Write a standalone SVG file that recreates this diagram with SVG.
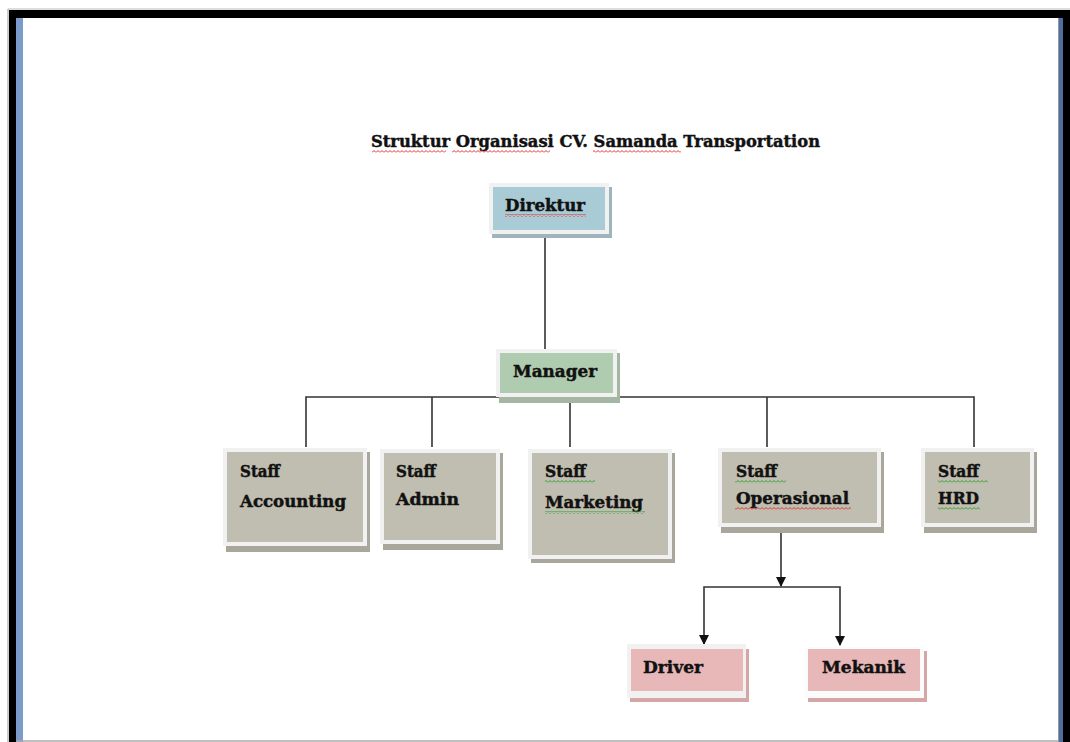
<svg xmlns="http://www.w3.org/2000/svg" width="1070" height="742" viewBox="0 0 1070 742">
<style>
.t{font-family:"DejaVu Serif","Liberation Serif",serif;font-weight:bold;fill:#111;stroke:#111;stroke-width:0.45;}
.ttl{font-size:17px;}
.lb{font-size:16px;}
.outer{fill:#f1f1f1;}
.conn{stroke:#333;stroke-width:1.6;fill:none;}
</style>
<defs>
<pattern id="sqR" width="4" height="3" patternUnits="userSpaceOnUse">
<path d="M0,2.5 L2,0.5 L4,2.5" stroke="#e03030" stroke-width="1" fill="none"/>
</pattern>
<pattern id="sqG" width="4" height="3" patternUnits="userSpaceOnUse">
<path d="M0,2.5 L2,0.5 L4,2.5" stroke="#30a030" stroke-width="1" fill="none"/>
</pattern>
<marker id="arr" markerWidth="10" markerHeight="10" refX="9" refY="5" orient="auto-start-reverse" markerUnits="userSpaceOnUse" viewBox="0 0 10 10">
<path d="M0,0 L10,5 L0,10 Z" fill="#111"/>
</marker>
</defs>
<rect x="0" y="0" width="1070" height="742" fill="#fff"/>
<g id="frame">
<line x1="8" y1="9" x2="1070" y2="9" stroke="#bbb" stroke-width="1"/>
<line x1="8" y1="9" x2="8" y2="742" stroke="#999" stroke-width="1"/>
<rect x="9" y="10" width="1061" height="8" fill="#000"/>
<rect x="9" y="10" width="7" height="732" fill="#000"/>
<rect x="16" y="18" width="7" height="724" fill="#7b9ccb"/>
<rect x="1063" y="10" width="7" height="732" fill="#000"/>
<rect x="1059" y="18" width="4" height="724" fill="#4d6e9e"/>
<line x1="1058.5" y1="18" x2="1058.5" y2="742" stroke="#999" stroke-width="1"/>
<line x1="16" y1="741" x2="1058" y2="741" stroke="#aaa" stroke-width="1.5"/>
</g>
<g id="title">
<text class="t ttl" x="371" y="147" textLength="449" lengthAdjust="spacingAndGlyphs">Struktur Organisasi CV. Samanda Transportation</text>
<rect x="372" y="150" width="74" height="3" fill="url(#sqR)"/>
<rect x="452" y="150" width="98" height="3" fill="url(#sqR)"/>
<rect x="593" y="150" width="88" height="3" fill="url(#sqR)"/>
</g>
<g id="connectors">
<line class="conn" x1="545" y1="234" x2="545" y2="350"/>
<polyline class="conn" points="306,447 306,397 974,397 974,447"/>
<line class="conn" x1="432" y1="397" x2="432" y2="447"/>
<line class="conn" x1="570" y1="397" x2="570" y2="447"/>
<line class="conn" x1="767" y1="397" x2="767" y2="447"/>
<line class="conn" x1="781" y1="528" x2="781" y2="586" marker-end="url(#arr)"/>
<polyline class="conn" points="704,644 704,587 840,587 840,645" marker-start="url(#arr)" marker-end="url(#arr)"/>
</g>
<g id="direktur">
<rect x="492" y="187" width="120" height="51" fill="#9fb4bc"/>
<rect class="outer" x="489" y="183" width="120" height="51"/>
<rect x="493" y="187" width="112" height="43" fill="#a9cbd6"/>
<text class="t lb" x="505" y="211" textLength="80" lengthAdjust="spacingAndGlyphs">Direktur</text>
<rect x="505" y="214" width="81" height="3" fill="url(#sqR)"/>
</g>
<g id="manager">
<rect x="499" y="353" width="121" height="50" fill="#a3b7a3"/>
<rect class="outer" x="496" y="349" width="121" height="48"/>
<rect x="500" y="353" width="113" height="40" fill="#b0ccb0"/>
<text class="t lb" x="513" y="377" textLength="84" lengthAdjust="spacingAndGlyphs">Manager</text>
</g>
<g id="staff-accounting">
<rect x="226" y="452" width="144" height="100" fill="#a9a79b"/>
<rect class="outer" x="223" y="448" width="144" height="98"/>
<rect x="227" y="452" width="136" height="90" fill="#c0beb0"/>
<text class="t lb" x="240" y="477" textLength="40" lengthAdjust="spacingAndGlyphs">Staff</text>
<text class="t lb" x="240" y="507" textLength="106" lengthAdjust="spacingAndGlyphs">Accounting</text>
</g>
<g id="staff-admin">
<rect x="383" y="453" width="120" height="97" fill="#a9a79b"/>
<rect class="outer" x="380" y="449" width="120" height="95"/>
<rect x="384" y="453" width="112" height="87" fill="#c0beb0"/>
<text class="t lb" x="396" y="477" textLength="40" lengthAdjust="spacingAndGlyphs">Staff</text>
<text class="t lb" x="396" y="505" textLength="63" lengthAdjust="spacingAndGlyphs">Admin</text>
</g>
<g id="staff-marketing">
<rect x="531" y="453" width="144" height="110" fill="#a9a79b"/>
<rect class="outer" x="528" y="449" width="144" height="110"/>
<rect x="532" y="453" width="136" height="102" fill="#c0beb0"/>
<text class="t lb" x="545" y="477" textLength="41" lengthAdjust="spacingAndGlyphs">Staff</text>
<text class="t lb" x="545" y="508" textLength="98" lengthAdjust="spacingAndGlyphs">Marketing</text>
<rect x="545" y="480" width="50" height="3" fill="url(#sqG)"/>
<rect x="545" y="511" width="100" height="3" fill="url(#sqG)"/>
</g>
<g id="staff-operasional">
<rect x="721" y="452" width="163" height="81" fill="#a9a79b"/>
<rect class="outer" x="718" y="448" width="163" height="79"/>
<rect x="722" y="452" width="155" height="71" fill="#c0beb0"/>
<text class="t lb" x="736" y="477" textLength="41" lengthAdjust="spacingAndGlyphs">Staff</text>
<text class="t lb" x="736" y="504" textLength="113" lengthAdjust="spacingAndGlyphs">Operasional</text>
<rect x="735" y="480" width="51" height="3" fill="url(#sqG)"/>
<rect x="735" y="507" width="116" height="3" fill="url(#sqR)"/>
</g>
<g id="staff-hrd">
<rect x="924" y="452" width="113" height="81" fill="#a9a79b"/>
<rect class="outer" x="921" y="448" width="113" height="79"/>
<rect x="925" y="452" width="105" height="71" fill="#c0beb0"/>
<text class="t lb" x="938" y="477" textLength="41" lengthAdjust="spacingAndGlyphs">Staff</text>
<text class="t lb" x="938" y="504" textLength="41" lengthAdjust="spacingAndGlyphs">HRD</text>
<rect x="938" y="480" width="50" height="3" fill="url(#sqG)"/>
<rect x="938" y="507" width="42" height="3" fill="url(#sqG)"/>
</g>
<g id="driver">
<rect x="630" y="649" width="119" height="53" fill="#d4a6a6"/>
<rect class="outer" x="627" y="644" width="119" height="54"/>
<rect x="631" y="649" width="112" height="42" fill="#e8b8b8"/>
<text class="t lb" x="643" y="673" textLength="60" lengthAdjust="spacingAndGlyphs">Driver</text>
</g>
<g id="mekanik">
<rect x="808" y="651" width="119" height="51" fill="#d4a6a6"/>
<rect x="805" y="647" width="119" height="51" fill="#fbfbfb"/>
<rect x="808" y="649" width="112" height="42" fill="#e8b8b8"/>
<text class="t lb" x="822" y="673" textLength="83" lengthAdjust="spacingAndGlyphs">Mekanik</text>
</g>
</svg>
